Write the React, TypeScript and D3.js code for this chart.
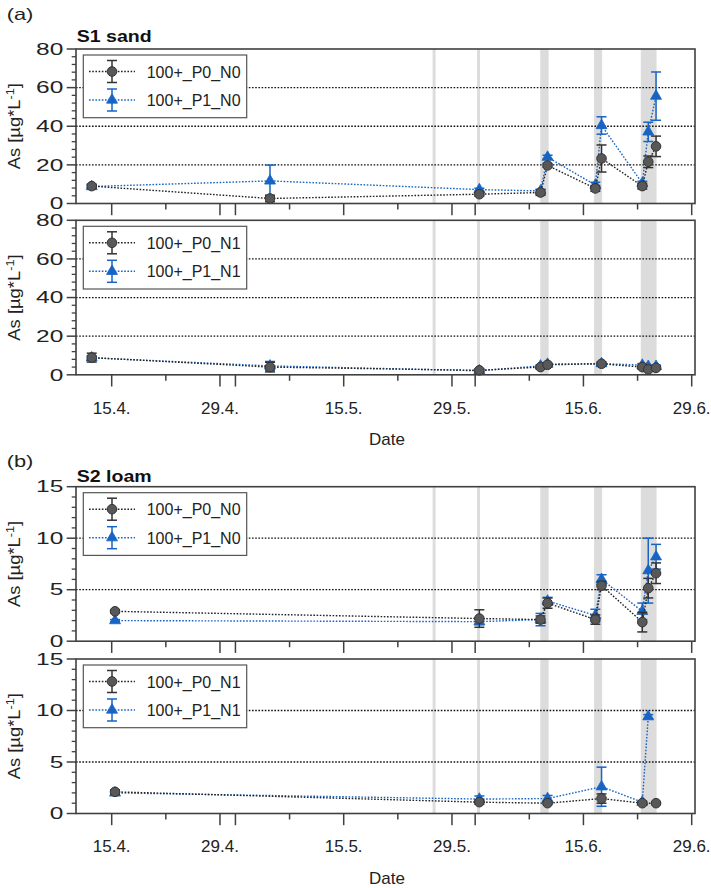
import React from "react";
import * as d3 from "d3";

const parseT = d3.utcParse("%Y-%m-%dT%H:%M");

// ---- sampling dates ----
const datesS1 = [
  "2019-04-12T10:00", "2019-05-05T11:15", "2019-06-01T13:00", "2019-06-09T10:50",
  "2019-06-10T08:40", "2019-06-16T13:00", "2019-06-17T08:10", "2019-06-22T14:40",
  "2019-06-23T09:10", "2019-06-24T09:20",
];
const datesS2 = [
  "2019-04-15T10:20", "2019-06-01T13:00", "2019-06-09T10:50", "2019-06-10T08:40",
  "2019-06-16T13:00", "2019-06-17T08:10", "2019-06-22T14:40", "2019-06-23T09:10",
  "2019-06-24T09:20",
];

// ---- S1 sand, N0 ----
const s1_P0_N0 = [9.0, 2.6, 4.8, 5.7, 19.7, 7.8, 23.3, 9.0, 21.6, 29.6];
const s1_P0_N0_err = [1.0, 1.7, 1.0, 1.5, 1.0, 1.5, 7.0, 1.5, 3.0, 5.3];
const s1_P1_N0 = [8.8, 11.7, 7.2, 6.5, 24.0, 9.5, 40.4, 10.5, 37.1, 55.6];
const s1_P1_N0_err = [0.8, 8.2, 0.7, 0.8, 1.0, 1.5, 4.5, 1.0, 5.0, 12.5];

// ---- S1 sand, N1 ----
const s1_P0_N1 = [8.9, 4.0, 2.3, 4.0, 5.2, null, 5.7, 4.0, 2.8, 3.6];
const s1_P0_N1_err = [2.3, 2.5, 0.8, 0.5, 0.5, null, 0.8, 1.0, 0.5, 0.8];
const s1_P1_N1 = [8.8, 4.6, 2.1, 4.6, 5.5, null, 5.8, 5.0, 4.4, 4.4];
const s1_P1_N1_err = [1.0, 2.3, 0.6, 0.5, 0.5, null, 0.6, 0.8, 0.6, 0.6];

// ---- S2 loam, N0 ----
const s2_P0_N0 = [2.9, 2.2, 2.1, 3.7, 2.1, 5.4, 1.85, 5.15, 6.6];
const s2_P0_N0_err = [0.15, 0.85, 0.35, 0.5, 0.45, 0.4, 0.95, 0.95, 1.0];
const s2_P1_N0 = [2.0, 1.9, 2.1, 3.9, 2.5, 6.0, 2.9, 6.85, 8.2];
const s2_P1_N0_err = [0.1, 0.3, 0.6, 0.35, 0.6, 0.45, 0.8, 3.15, 1.2];

// ---- S2 loam, N1 ----
const s2_P0_N1 = [2.1, 1.1, null, 1.0, null, 1.45, 1.0, null, 1.0];
const s2_P0_N1_err = [0.2, 0.2, null, 0.1, null, 0.45, 0.1, null, 0.1];
const s2_P1_N1 = [2.0, 1.4, null, 1.45, null, 2.6, 1.1, 9.4, null];
const s2_P1_N1_err = [0.2, 0.3, null, 0.3, null, 1.9, 0.1, 0.2, null];

// ---- event bands (grey) ----
const eventBands = [
  ["2019-05-26T12:00", "2019-05-26T21:00"],
  ["2019-06-01T06:00", "2019-06-01T15:00"],
  ["2019-06-09T10:00", "2019-06-10T12:00"],
  ["2019-06-16T09:00", "2019-06-17T10:00"],
  ["2019-06-22T10:00", "2019-06-24T11:00"],
];

// ---- x axis ----
const xDomain = ["2019-04-15T00:00", "2019-06-29T00:00"];
const xTickDates = [
  "2019-04-15T00:00", "2019-04-22T00:00", "2019-04-29T00:00", "2019-05-01T00:00",
  "2019-05-08T00:00", "2019-05-15T00:00", "2019-05-22T00:00", "2019-05-29T00:00",
  "2019-06-01T00:00", "2019-06-08T00:00", "2019-06-15T00:00", "2019-06-22T00:00",
  "2019-06-29T00:00",
];
const majorTickDays = [1, 15, 29];
const xLabelDates = [
  "2019-04-15T00:00", "2019-04-29T00:00", "2019-05-15T00:00",
  "2019-05-29T00:00", "2019-06-15T00:00", "2019-06-29T00:00",
];

// ---- y axes ----
const yTicksA = [0, 20, 40, 60, 80];
const yGridA = [20, 40, 60];
const yMinorStepA = 4;
const yTicksB = [0, 5, 10, 15];
const yGridB = [5, 10];
const yMinorStepB = 1;

const legendN0 = ["100+_P0_N0", "100+_P1_N0"];
const legendN1 = ["100+_P0_N1", "100+_P1_N1"];

const FONT = "'Liberation Sans', Arial, sans-serif";
const BLUE = "#1764c4";
const GREY_FILL = "#585858";
const GREY_STROKE = "#333";
const FRAME = "#404040";

const L = 76, R = 695, PH = 154.5;

const x = d3.scaleUtc().domain(xDomain.map((d) => parseT(d)!)).range([111.7, 691.7]);
const fmt = d3.utcFormat("%-d.%-m.");
const triPath = d3.symbol().type(d3.symbolTriangle).size(52)()!;

function Series({ dates, vals, errs, y, color, kind }) {
  const pts = dates
    .map((d, i) => ({ t: parseT(d)!, v: vals[i], e: errs[i] }))
    .filter((p) => p.v !== null && p.v !== undefined);
  const line = d3.line<any>().x((p) => x(p.t)).y((p) => y(p.v));
  const barColor = kind === "circle" ? GREY_STROKE : BLUE;
  return (
    <g>
      <path d={line(pts)!} fill="none" stroke={kind === "circle" ? "#222" : BLUE}
        strokeWidth={1.4} strokeDasharray="1.6,1.6" />
      {pts.map((p, i) => {
        const cx = x(p.t);
        const y1 = y(p.v + p.e), y2 = y(Math.max(0, p.v - p.e));
        return (
          <g key={"e" + i} stroke={barColor} strokeWidth={1.5}>
            <line x1={cx} x2={cx} y1={y1} y2={y2} />
            <line x1={cx - 5} x2={cx + 5} y1={y1} y2={y1} />
            <line x1={cx - 5} x2={cx + 5} y1={y2} y2={y2} />
          </g>
        );
      })}
      {pts.map((p, i) =>
        kind === "circle" ? (
          <circle key={"m" + i} cx={x(p.t)} cy={y(p.v)} r={4.8} fill={GREY_FILL} stroke={GREY_STROKE} strokeWidth={1} />
        ) : (
          <path key={"m" + i} d={triPath} transform={`translate(${x(p.t)},${y(p.v)})`} fill={BLUE} stroke={BLUE} strokeWidth={0.8} />
        )
      )}
    </g>
  );
}

function Legend({ top, labels }) {
  const bx = 83.3, bw = 163.4;
  const rows = [top + 22.5, top + 51];
  return (
    <g>
      <rect x={bx} y={top + 6} width={bw} height={62.7} fill="white" stroke="#555" strokeWidth={1.2} />
      {rows.map((ry, i) => {
        const col = i === 0 ? GREY_STROKE : BLUE;
        return (
          <g key={i}>
            <line x1={89} x2={135} y1={ry} y2={ry} stroke={i === 0 ? "#222" : BLUE} strokeWidth={1.4} strokeDasharray="1.6,1.6" />
            <g stroke={col} strokeWidth={1.5}>
              <line x1={112} x2={112} y1={ry - 11} y2={ry + 11} />
              <line x1={107} x2={117} y1={ry - 11} y2={ry - 11} />
              <line x1={107} x2={117} y1={ry + 11} y2={ry + 11} />
            </g>
            {i === 0 ? (
              <circle cx={112} cy={ry} r={4.8} fill={GREY_FILL} stroke={GREY_STROKE} strokeWidth={1} />
            ) : (
              <path d={triPath} transform={`translate(112,${ry})`} fill={BLUE} stroke={BLUE} strokeWidth={0.8} />
            )}
            <text x={146.7} y={ry + 6} fontSize={16} fontFamily={FONT} fill="#222">{labels[i]}</text>
          </g>
        );
      })}
    </g>
  );
}

function Panel({ top, yMax, yTicks, yGrid, minorStep, dates, p0, p0e, p1, p1e, labels, showLabels }) {
  const bottom = top + PH;
  const y = d3.scaleLinear().domain([0, yMax]).range([bottom, top]);
  const minor = d3.range(0, yMax + 1e-9, minorStep).filter((v) => !yTicks.includes(v));
  return (
    <g>
      {eventBands.map((b, i) => {
        const x0 = x(parseT(b[0])!), x1 = x(parseT(b[1])!);
        return <rect key={i} x={x0} y={top} width={x1 - x0} height={PH} fill="#dcdcdc" />;
      })}
      {yGrid.map((v) => (
        <line key={v} x1={L} x2={R} y1={y(v)} y2={y(v)} stroke="#111" strokeWidth={1.3} strokeDasharray="1.6,1.6" />
      ))}
      <Legend top={top} labels={labels} />
      <Series dates={dates} vals={p1} errs={p1e} y={y} color={BLUE} kind="tri" />
      <Series dates={dates} vals={p0} errs={p0e} y={y} color={GREY_STROKE} kind="circle" />
      <rect x={L} y={top} width={R - L} height={PH} fill="none" stroke={FRAME} strokeWidth={1.6} />
      {yTicks.map((v) => (
        <g key={"t" + v}>
          <line x1={66.7} x2={L} y1={y(v)} y2={y(v)} stroke={FRAME} strokeWidth={1.5} />
          <text x={63.3} y={y(v)} dy="0.36em" textAnchor="end" fontSize={16} fontFamily={FONT} fill="#222"
            textLength={String(v).length * 13.6} lengthAdjust="spacingAndGlyphs">{v}</text>
        </g>
      ))}
      {minor.map((v) => (
        <line key={"m" + v} x1={71.7} x2={L} y1={y(v)} y2={y(v)} stroke={FRAME} strokeWidth={1.3} />
      ))}
      {xTickDates.map((d) => {
        const t = parseT(d)!;
        const len = majorTickDays.includes(t.getUTCDate()) ? 11.7 : 6;
        return <line key={d} x1={x(t)} x2={x(t)} y1={bottom} y2={bottom + len} stroke={FRAME} strokeWidth={1.5} />;
      })}
      {showLabels &&
        xLabelDates.map((d) => (
          <text key={d} x={x(parseT(d)!)} y={bottom + 38.8} textAnchor="middle" fontSize={17} fontFamily={FONT} fill="#222">
            {fmt(parseT(d)!)}
          </text>
        ))}
      <g transform={`translate(20,${(top + bottom) / 2}) rotate(-90) scale(1.15,1)`}>
        <text textAnchor="middle" fontSize={16} fontFamily={FONT} fill="#222">
          As [µg*L<tspan dy="-6" fontSize={11}>-1</tspan><tspan dy="6">]</tspan>
        </text>
      </g>
    </g>
  );
}

export default function App() {
  const tops = [49, 220.3, 486.7, 659];
  return (
    <svg width={711} height={888} style={{ position: "absolute", left: 0, top: 0, background: "white" }}>
      <rect width={711} height={888} fill="white" />
      <text x={6.7} y={20} fontSize={16.5} fontFamily={FONT} fill="#222" textLength={26.7} lengthAdjust="spacingAndGlyphs">(a)</text>
      <text x={76.7} y={41.7} fontSize={17} fontWeight="bold" fontFamily={FONT} fill="#111" textLength={75} lengthAdjust="spacingAndGlyphs">S1 sand</text>
      <Panel top={tops[0]} yMax={80} yTicks={yTicksA} yGrid={yGridA} minorStep={yMinorStepA} dates={datesS1}
        p0={s1_P0_N0} p0e={s1_P0_N0_err} p1={s1_P1_N0} p1e={s1_P1_N0_err} labels={legendN0} showLabels={false} />
      <Panel top={tops[1]} yMax={80} yTicks={yTicksA} yGrid={yGridA} minorStep={yMinorStepA} dates={datesS1}
        p0={s1_P0_N1} p0e={s1_P0_N1_err} p1={s1_P1_N1} p1e={s1_P1_N1_err} labels={legendN1} showLabels={true} />
      <text x={387} y={tops[1] + PH + 70} textAnchor="middle" fontSize={17} fontFamily={FONT} fill="#222">Date</text>

      <text x={6.7} y={466.6} fontSize={16.5} fontFamily={FONT} fill="#222" textLength={26.7} lengthAdjust="spacingAndGlyphs">(b)</text>
      <text x={76.7} y={481.7} fontSize={17} fontWeight="bold" fontFamily={FONT} fill="#111" textLength={75} lengthAdjust="spacingAndGlyphs">S2 loam</text>
      <Panel top={tops[2]} yMax={15} yTicks={yTicksB} yGrid={yGridB} minorStep={yMinorStepB} dates={datesS2}
        p0={s2_P0_N0} p0e={s2_P0_N0_err} p1={s2_P1_N0} p1e={s2_P1_N0_err} labels={legendN0} showLabels={false} />
      <Panel top={tops[3]} yMax={15} yTicks={yTicksB} yGrid={yGridB} minorStep={yMinorStepB} dates={datesS2}
        p0={s2_P0_N1} p0e={s2_P0_N1_err} p1={s2_P1_N1} p1e={s2_P1_N1_err} labels={legendN1} showLabels={true} />
      <text x={387} y={tops[3] + PH + 70} textAnchor="middle" fontSize={17} fontFamily={FONT} fill="#222">Date</text>
    </svg>
  );
}
